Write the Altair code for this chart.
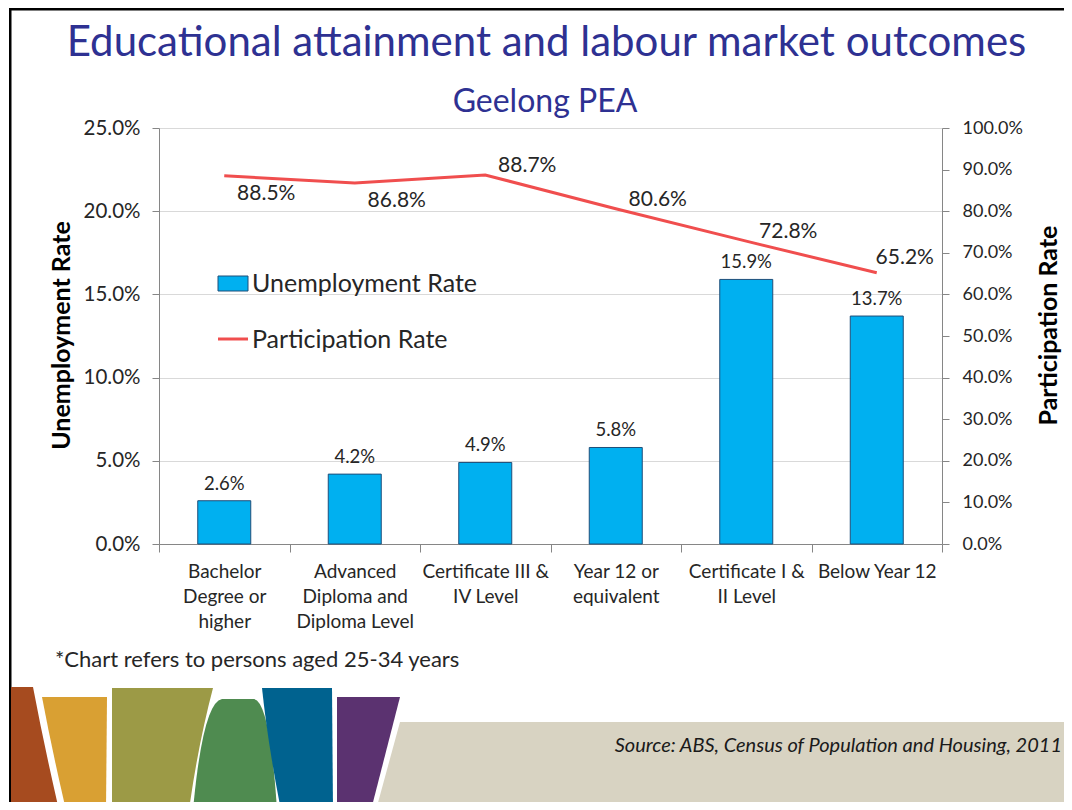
import json
import altair as alt
import pandas as pd

# ---------------- data ----------------
categories = [
    "Bachelor Degree or higher",
    "Advanced Diploma and Diploma Level",
    "Certificate III & IV Level",
    "Year 12 or equivalent",
    "Certificate I & II Level",
    "Below Year 12",
]
category_lines = [
    ["Bachelor", "Degree or", "higher"],
    ["Advanced", "Diploma and", "Diploma Level"],
    ["Certificate III &", "IV Level"],
    ["Year 12 or", "equivalent"],
    ["Certificate I &", "II Level"],
    ["Below Year 12"],
]
unemployment_rate = [2.6, 4.2, 4.9, 5.8, 15.9, 13.7]
participation_rate = [88.5, 86.8, 88.7, 80.6, 72.8, 65.2]
participation_label_side = ["below", "below", "above", "above", "above", "end"]
left_ticks = [0, 5, 10, 15, 20, 25]
right_ticks = [0, 10, 20, 30, 40, 50, 60, 70, 80, 90, 100]

df = pd.DataFrame({
    "category": categories,
    "unemployment": unemployment_rate,
    "participation": participation_rate,
    "side": participation_label_side,
})

FONT = "Lato"
NAVY = "#2E3192"
BLUE = "#00B0F0"
BAR_EDGE = "#1F4E79"
RED = "#F04E4E"
TXT = "#262626"
AXIS_C = "#868686"

# plot-area origin in page coordinates (used for decoration placement)
OX, OY = 159, 128

# x-axis multi-line labels
expr = "''"
for name, lines in zip(reversed(categories), reversed(category_lines)):
    expr = f"datum.value == {json.dumps(name)} ? {json.dumps(lines)} : ({expr})"

x_enc = alt.X(
    "category:N",
    sort=categories,
    scale=alt.Scale(paddingInner=0, paddingOuter=0),
    axis=alt.Axis(
        title=None, labelAngle=0, labelExpr=expr, tickBand="extent",
        tickSize=8, labelPadding=10, labelLineHeight=25, grid=False,
        labelFontSize=19,
    ),
)

pct = "format(datum.value, '.1f') + '%'"
left_axis = alt.Axis(
    values=left_ticks, labelExpr=pct, grid=True, gridColor="#D9D9D9",
    tickSize=7, labelPadding=12, labelFontSize=20.5, title="Unemployment Rate",
    titleX=-98, titleY=207, titleAngle=270, titleAlign="center",
    titleBaseline="middle",
)
right_axis = alt.Axis(
    values=right_ticks, labelExpr=pct, grid=False, orient="right",
    tickSize=7, labelPadding=13, labelFontSize=18, title="Participation Rate",
    titleX=106, titleY=197, titleAngle=270, titleAlign="center",
    titleBaseline="middle",
)
y_left = alt.Y("unemployment:Q", scale=alt.Scale(domain=[0, 25], nice=False), axis=left_axis)
y_right = alt.Y("participation:Q", scale=alt.Scale(domain=[0, 100], nice=False), axis=right_axis)

base = alt.Chart(df)

bars = base.mark_bar(size=53, fill=BLUE, stroke=BAR_EDGE, strokeWidth=1).encode(x=x_enc, y=y_left)
bar_labels = base.transform_calculate(
    lbl="format(datum.unemployment, '.1f') + '%'"
).mark_text(dy=-17, fontSize=18.5, font=FONT, color=TXT, baseline="middle").encode(
    x=x_enc, y=y_left, text="lbl:N")
left_layer = alt.layer(bars, bar_labels)

line = base.mark_line(color=RED, strokeWidth=3).encode(x=x_enc, y=y_right)


def part_labels(side, dx, dy):
    return base.transform_filter(f"datum.side == '{side}'").transform_calculate(
        lbl="format(datum.participation, '.1f') + '%'"
    ).mark_text(dx=dx, dy=dy, fontSize=21, font=FONT, color=TXT, baseline="middle").encode(
        x=x_enc, y=y_right, text="lbl:N")


right_layer = alt.layer(
    line,
    part_labels("below", 42, 18),
    part_labels("above", 42, -9),
    part_labels("end", 28, -15),
)

one = alt.Data(values=[{"k": 1}])


def shape(path, color):
    return alt.Chart(one).mark_point(
        shape=path, size=4, filled=True, fill=color, opacity=1, strokeWidth=0
    ).encode(x=alt.value(-OX), y=alt.value(-OY))


def txt(text, x, y, size, color=TXT, align="left", **kw):
    return alt.Chart(one).mark_text(
        text=text, fontSize=size, font=FONT, color=color, align=align,
        baseline="alphabetic", **kw
    ).encode(x=alt.value(x - OX), y=alt.value(y - OY))


deco = [
    shape("M9,8 L1072,8 L1072,10.5 L9,10.5 Z M9,8 L11.5,8 L11.5,810 L9,810 Z", "#000000"),
    shape("M400,722 L1072,722 L1072,810 L376,810 Z", "#D8D3C2"),
    shape("M11,687 L33,687 Q44,745 59,810 L11,810 Z", "#A64B1F"),
    shape("M42,697 L107,697 L106,810 L66,810 Q52,750 42,697 Z", "#D9A033"),
    shape("M112,688 L213,688 Q198,745 189,810 L112,810 Z", "#9C9A46"),
    shape("M193,810 Q203,702 222,699 L254,699 Q270,702 277,810 Z", "#4F8B50"),
    shape("M262,688 L332,688 L333,810 L281,810 Q268,745 262,688 Z", "#00628F"),
    shape("M337,697 L400,697 L371,810 L337,810 Z", "#5B3270"),
]

texts = [
    txt("Educational attainment and labour market outcomes", 546.5, 56, 42, NAVY, "center"),
    txt("Geelong PEA", 545, 112, 32, NAVY, "center"),
    txt("*Chart refers to persons aged 25-34 years", 55, 667, 22),
    txt("Source: ABS, Census of Population and Housing, 2011", 1062, 752, 20, "#1A1A1A", "right", fontStyle="italic"),
]

legend = [
    alt.Chart(one).mark_rect(fill=BLUE, stroke=BAR_EDGE, strokeWidth=1).encode(
        x=alt.value(218 - OX), x2=alt.value(248 - OX), y=alt.value(276 - OY), y2=alt.value(291 - OY)),
    alt.Chart(one).mark_rule(color=RED, strokeWidth=3).encode(
        x=alt.value(218 - OX), x2=alt.value(248 - OX), y=alt.value(339 - OY)),
    txt("Unemployment Rate", 252, 292, 25),
    txt("Participation Rate", 252, 348, 25),
]

chart = alt.layer(
    *deco, *texts, left_layer, right_layer, *legend
).resolve_scale(y="independent").properties(
    width=783, height=416,
    autosize=alt.AutoSizeParams(type="none"),
    padding={"left": 151, "top": 120, "right": 122, "bottom": 258},
).configure_view(strokeWidth=0).configure_axis(
    labelFont=FONT, labelFontSize=18, labelColor=TXT,
    titleFont=FONT, titleFontSize=25, titleFontWeight="bold", titleColor="#000000",
    domainColor=AXIS_C, tickColor=AXIS_C,
)

chart.save("out.html", embed_options={"renderer": "svg", "actions": False})
